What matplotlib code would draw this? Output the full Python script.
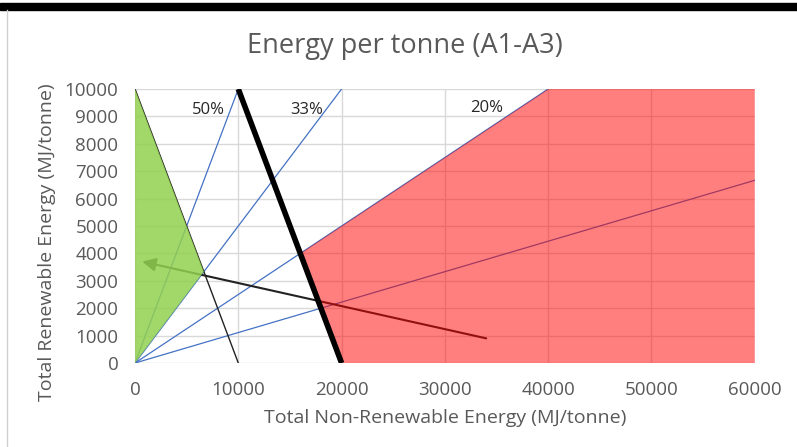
import numpy as np
import matplotlib.pyplot as plt
import matplotlib.lines as mlines
import matplotlib.patches as mpatches

plt.rcParams['font.family'] = ['Open Sans', 'DejaVu Sans']

# renewable share lines from origin: y = k * x, end points
share_labels = ['50%', '33%', '20%', '']
share_end_x = [10000, 20000, 40000, 60000]
share_end_y = [10000, 10000, 10000, 6667]
label_x = [7100, 16600, 34000]
label_y = [9250, 9250, 9300]

# thin and thick total-energy limits
thin_x = [0, 10000]
thin_y = [10000, 0]
thick_x = [10000, 20000]
thick_y = [10000, 0]

# shaded regions
green_x = [0, 0, 6667]
green_y = [0, 10000, 3333]
red_x = [20000, 60000, 60000, 40000, 16000]
red_y = [0, 0, 10000, 10000, 4000]

# arrow
arrow_from = (34000, 900)
arrow_to = (700, 3700)

grey = '#595959'

fig = plt.figure(figsize=(7.97, 4.47), dpi=100)
ax = fig.add_axes([0.1694, 0.1879, 0.7776, 0.613])

for ex, ey in zip(share_end_x, share_end_y):
    ax.plot([0, ex], [0, ey], color='#4472C4', lw=0.9, zorder=2)
ax.plot(thin_x, thin_y, color='#222222', lw=1.0, zorder=2)
ax.annotate('', xy=arrow_to, xytext=arrow_from,
            arrowprops=dict(arrowstyle='-|>', color='#222222', lw=1.5,
                            mutation_scale=20, shrinkA=0, shrinkB=0),
            zorder=2)

ax.fill(green_x, green_y, color='#92D050', alpha=0.85, lw=0, zorder=3)
ax.fill(red_x, red_y, color='#FF0000', alpha=0.5, lw=0, zorder=3)

ax.plot(thick_x, thick_y, color='black', lw=4, zorder=4, solid_capstyle='butt')

for lab, lx, ly in zip(share_labels, label_x, label_y):
    if lab:
        ax.text(lx, ly, lab, ha='center', va='center', fontsize=12,
                color='#262626', zorder=5)

ax.set_xlim(0, 60000)
ax.set_ylim(0, 10000)
ax.set_xticks(np.arange(0, 60001, 10000))
ax.set_yticks(np.arange(0, 10001, 1000))
ax.grid(True, color='#D9D9D9', lw=1, zorder=0)
ax.set_axisbelow(True)
for s in ax.spines.values():
    s.set_visible(False)
ax.tick_params(length=0, labelsize=13.5, colors=grey)
ax.tick_params(axis='x', pad=13)
ax.tick_params(axis='y', pad=12)
ax.set_xlabel('Total Non-Renewable Energy (MJ/tonne)', fontsize=14,
              color=grey, labelpad=7)
ax.set_ylabel('Total Renewable Energy (MJ/tonne)', fontsize=14, color=grey)
ax.yaxis.set_label_coords(-0.127, 0.44)
fig.text(0.508, 0.898, 'Energy per tonne (A1-A3)', ha='center', va='center',
         fontsize=19.5, color=grey)

# frame decoration like the screenshot
fig.add_artist(mpatches.Rectangle((0, 0.977), 1, 0.016, color='black',
                                  transform=fig.transFigure))
fig.add_artist(mlines.Line2D([0.009, 0.009], [0, 0.977], color='#D0D0D0',
                             lw=1, transform=fig.transFigure))

fig.savefig('out.png', dpi=100)
